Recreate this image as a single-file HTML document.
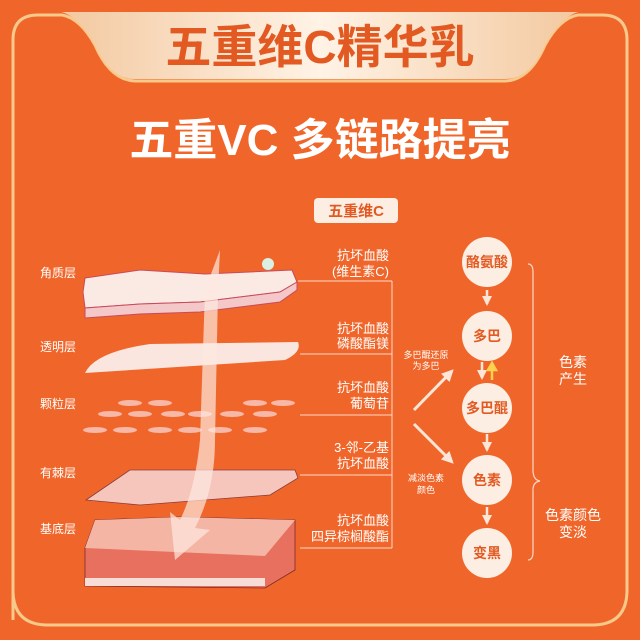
<!DOCTYPE html>
<html><head><meta charset="utf-8"><style>
body{margin:0;width:640px;height:640px;overflow:hidden;background:#f0662a}
svg{display:block}
svg text{font-family:"Liberation Sans","Noto Sans CJK SC",sans-serif}
</style></head><body>
<svg width="640" height="640" viewBox="0 0 640 640" xmlns="http://www.w3.org/2000/svg">
<defs>
<linearGradient id="ban" x1="0" y1="0" x2="1" y2="0">
<stop offset="0" stop-color="#f3c9a0"/><stop offset="0.5" stop-color="#fff3e6"/><stop offset="1" stop-color="#f3c9a0"/></linearGradient>
<marker id="ah" viewBox="0 0 10 10" refX="8" refY="5" markerWidth="4" markerHeight="4" orient="auto"><path d="M0,0L10,5L0,10z" fill="#fde6d8"/></marker>
</defs>
<rect width="640" height="640" fill="#f0662a"/>
<path d="M13,620 L13,40 Q13,15 38,15 L62,15 Q80,18 95,45 Q110,80 135,81 L505,81 Q530,80 545,45 Q560,18 578,15 L602,15 Q627,15 627,40 L627,590 Q627,625 592,625 L48,625 Q13,625 13,590Z" fill="none" stroke="#f7c98a" stroke-width="3"/>
<path d="M62,12 L578,12 Q560,18 545,45 Q530,79 505,79 L135,79 Q110,79 95,45 Q80,18 62,12Z" fill="url(#ban)"/>
<text x="320" y="63" font-size="46" font-weight="bold" fill="#e25a22" text-anchor="middle">五重维C精华乳</text>
<text x="320" y="155" font-size="44" fill="#fff" text-anchor="middle" font-weight="bold">五重VC 多链路提亮</text>
<rect x="314" y="198" width="84" height="25" rx="4" fill="#fdeee4"/>
<text x="356" y="216" font-size="15" font-weight="bold" fill="#e25a22" text-anchor="middle">五重维C</text>
<g font-size="12" fill="#fff">
<text x="40" y="277">角质层</text><text x="40" y="351">透明层</text><text x="40" y="408">颗粒层</text><text x="40" y="477">有棘层</text><text x="40" y="533">基底层</text>
</g>
<path d="M85,278 L140,270 L205,274 L292,270 L297,282 L280,292 L200,302 L140,304 L85,308 L83,292Z" fill="#fbe9e4" stroke="#c84a5a" stroke-width="1"/>
<path d="M85,308 L140,304 L200,302 L280,292 L297,282 L297,290 L280,302 L200,312 L140,314 L85,318Z" fill="#f4c8c8" stroke="#c84a5a" stroke-width="1"/>
<path d="M150,344 L298,342 Q302,352 285,360 L85,373 Q95,352 150,344Z" fill="#fbe6df"/>
<g fill="#f8b8a8">
<ellipse cx="130" cy="403" rx="12" ry="3"/><ellipse cx="160" cy="403" rx="12" ry="3"/><ellipse cx="255" cy="403" rx="12" ry="3"/><ellipse cx="283" cy="403" rx="12" ry="3"/>
<ellipse cx="110" cy="414" rx="12" ry="3"/><ellipse cx="140" cy="414" rx="12" ry="3"/><ellipse cx="173" cy="414" rx="12" ry="3"/><ellipse cx="200" cy="414" rx="12" ry="3"/><ellipse cx="232" cy="414" rx="12" ry="3"/><ellipse cx="265" cy="414" rx="12" ry="3"/>
<ellipse cx="95" cy="430" rx="12" ry="3"/><ellipse cx="125" cy="430" rx="12" ry="3"/><ellipse cx="160" cy="430" rx="12" ry="3"/><ellipse cx="190" cy="430" rx="12" ry="3"/><ellipse cx="220" cy="430" rx="12" ry="3"/><ellipse cx="255" cy="430" rx="12" ry="3"/></g>
<path d="M130,470 L295,470 L298,478 L270,495 L140,505 L86,500 Z" fill="#f6c6bd" stroke="#8a3a3a" stroke-width="0.8"/>
<path d="M95,520 L180,517 L295,520 L295,570 L265,588 L85,586 L85,548 Z" fill="#e8705e" stroke="#7a2a2a" stroke-width="0.8"/>
<path d="M85,548 L265,556 L295,520 L180,517 L95,520Z" fill="#f5b5a5"/>
<rect x="85" y="578" width="180" height="8" fill="#f7ddd5"/>
<path d="M220,250 L205,290 L200,440 Q195,490 180,520 L170,512 L175,560 L210,530 L195,528 Q215,490 215,440 L218,290Z" fill="#fde8e0" opacity="0.7"/>
<circle cx="268" cy="264" r="6" fill="#d8fff8" opacity="0.9"/>
<g stroke="#fbd8c8" stroke-width="1" fill="none">
<path d="M298,281 H392 M300,354 H392 M300,415 H392 M300,475 H392 M300,548 H392 M392,281 V548"/>
</g>
<g font-size="13" fill="#fff" text-anchor="end">
<text x="389" y="260">抗坏血酸</text><text x="389" y="276">(维生素C)</text>
<text x="389" y="333">抗坏血酸</text><text x="389" y="348">磷酸酯镁</text>
<text x="389" y="392">抗坏血酸</text><text x="389" y="408">葡萄苷</text>
<text x="389" y="452">3-邻-乙基</text><text x="389" y="468">抗坏血酸</text>
<text x="389" y="525">抗坏血酸</text><text x="389" y="541">四异棕榈酸酯</text>
</g>
<line x1="414" y1="410" x2="452" y2="371" stroke="#fde6d8" stroke-width="3" marker-end="url(#ah)"/>
<line x1="414" y1="424" x2="452" y2="462" stroke="#fde6d8" stroke-width="3" marker-end="url(#ah)"/>
<g font-size="9" fill="#fff" text-anchor="middle">
<text x="426" y="358">多巴醌还原</text><text x="426" y="369">为多巴</text>
<text x="426" y="481">减淡色素</text><text x="426" y="493">颜色</text>
</g>
<g fill="#fdeee4">
<circle cx="487" cy="262" r="25"/><circle cx="487" cy="336" r="25"/><circle cx="487" cy="408" r="25"/><circle cx="487" cy="480" r="25"/><circle cx="487" cy="553" r="25"/></g>
<g font-size="14" font-weight="bold" fill="#e25a22" text-anchor="middle">
<text x="487" y="267">酪氨酸</text><text x="487" y="341">多巴</text><text x="487" y="413">多巴醌</text><text x="487" y="485">色素</text><text x="487" y="558">变黑</text></g>
<g stroke="#fde6d8" stroke-width="2.5">
<line x1="487" y1="290" x2="487" y2="304" marker-end="url(#ah)"/>
<line x1="482" y1="362" x2="482" y2="378" marker-end="url(#ah)"/>
<line x1="487" y1="434" x2="487" y2="450" marker-end="url(#ah)"/>
<line x1="487" y1="507" x2="487" y2="523" marker-end="url(#ah)"/>
</g>
<path d="M492,380 V368 M488,370 L492,363 L496,370Z" stroke="#ffd050" stroke-width="2.5" fill="#ffd050"/>
<path d="M528,264 Q533,264 533,272 V470 Q533,480 540,481 Q533,482 533,490 V552 Q533,560 528,560" fill="none" stroke="#fbd8c8" stroke-width="1.2"/>
<g font-size="14" fill="#fff" text-anchor="middle">
<text x="573" y="367">色素</text><text x="573" y="384">产生</text>
<text x="573" y="520">色素颜色</text><text x="573" y="537">变淡</text></g>
</svg>
</body></html>
